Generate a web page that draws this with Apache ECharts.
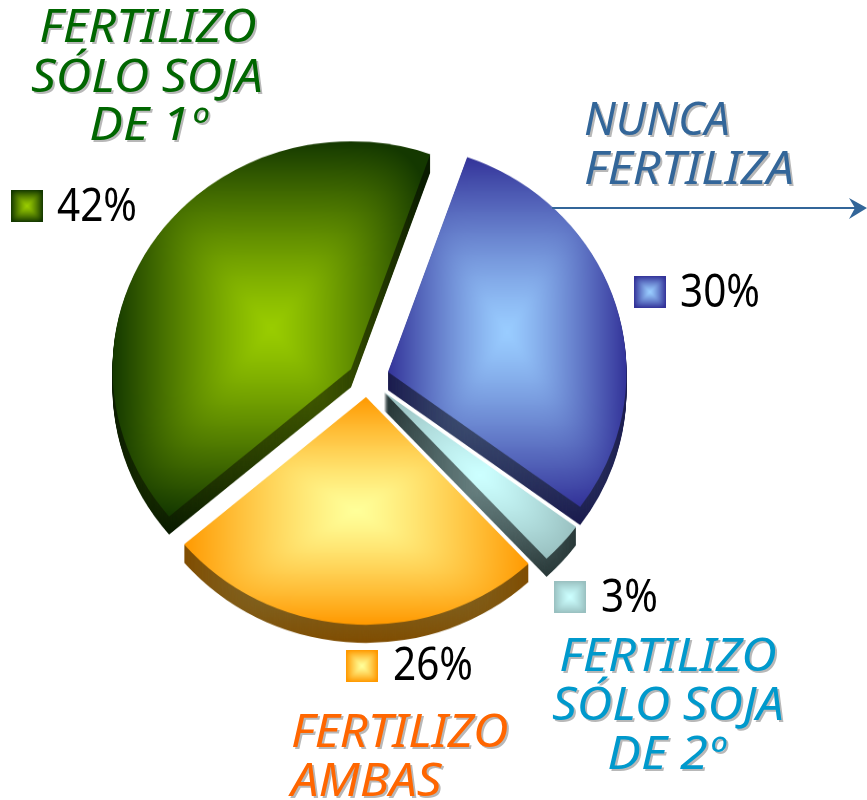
<!DOCTYPE html>
<html><head><meta charset="utf-8">
<style>html,body{margin:0;padding:0;background:#fff;overflow:hidden}
#wrap{position:relative;width:867px;height:800px;overflow:hidden}
#pie{position:absolute;left:0;top:0;width:867px;height:838px;transform:scaleY(0.955);transform-origin:0 0}
#txt{position:absolute;left:0;top:0;width:867px;height:800px}</style>
<script src="https://cdn.jsdelivr.net/npm/echarts@6/dist/echarts.min.js"></script>
</head><body><div id="wrap"><div id="pie"></div><div id="txt"></div></div>
<script>
var categories = ['NUNCA FERTILIZA', 'FERTILIZO SÓLO SOJA DE 2º', 'FERTILIZO AMBAS', 'FERTILIZO SÓLO SOJA DE 1º'];
var values = [30, 3, 26, 42];
var percentLabels = ['30%', '3%', '26%', '42%'];
var nameLines = [['NUNCA', 'FERTILIZA'], ['FERTILIZO', 'SÓLO SOJA', 'DE 2º'], ['FERTILIZO', 'AMBAS'], ['FERTILIZO', 'SÓLO SOJA', 'DE 1º']];

var TILT = 0.955, START = 70.6, R = 238.5, DEPTH = 18;
var centers = [[388, 372], [384, 392], [366, 397], [351, 369]];
var inner = [[153,204,255], [204,255,255], [255,255,153], [153,204,0]];
var outer = [[51,51,153], [153,192,192], [255,153,0], [20,56,0]];
var innerD = [[77,102,128], [102,127,127], [127,127,76], [77,102,0]];
var outerD = [[25,26,77], [40,56,56], [127,76,0], [8,26,0]];
var textCol = ['#336699', '#0099cc', '#ff6600', '#006600'];

// rectangular "path" gradient painted into a canvas, used as a fill pattern
function rectGrad(w, h, b, a, c) {
  var cv = document.createElement('canvas'); cv.width = w; cv.height = h;
  var g = cv.getContext('2d'), x0 = Math.max(0, Math.floor(b[0]) - 3), y0 = Math.max(0, Math.floor(b[1]) - 3),
      x1 = Math.min(w, Math.ceil(b[2]) + 3), y1 = Math.min(h, Math.ceil(b[3]) + 3);
  var im = g.createImageData(x1 - x0, y1 - y0), mx = (b[0] + b[2]) / 2, my = (b[1] + b[3]) / 2,
      hw = (b[2] - b[0]) / 2, hh = (b[3] - b[1]) / 2, p = 0;
  for (var y = y0; y < y1; y++) for (var x = x0; x < x1; x++) {
    var u = Math.abs(x + 0.5 - mx) / hw, v = Math.abs(y + 0.5 - my) / hh;
    var t = Math.min(1, Math.pow(Math.pow(u, 6) + Math.pow(v, 6), 1 / 6));
    t = Math.pow(t, 1.25);
    im.data[p++] = a[0] + (c[0] - a[0]) * t;
    im.data[p++] = a[1] + (c[1] - a[1]) * t;
    im.data[p++] = a[2] + (c[2] - a[2]) * t;
    im.data[p++] = 255;
  }
  g.putImageData(im, x0, y0);
  return {image: cv, repeat: 'no-repeat'};
}
function sliceBox(k, cy) {
  var tot = values.reduce(function (s, v) { return s + v; }, 0), a = 90 - START;
  for (var i = 0; i < k; i++) a += values[i] / tot * 360;
  var e = a + values[k] / tot * 360, cx = centers[k][0], xs = [cx], ys = [cy], list = [a, e];
  for (var q = 0; q <= 720; q += 90) if (q > a && q < e) list.push(q);
  list.forEach(function (d) {
    var r = d * Math.PI / 180;
    xs.push(cx + R * Math.sin(r)); ys.push(cy - R * Math.cos(r));
  });
  return [Math.min.apply(null, xs), Math.min.apply(null, ys), Math.max.apply(null, xs), Math.max.apply(null, ys)];
}
function sliceSeries(k, dy, fill) {
  return {
    type: 'pie', silent: true, animation: false, startAngle: START, clockwise: true,
    center: [centers[k][0], centers[k][1] / TILT + dy], radius: [0, R],
    label: {show: false}, labelLine: {show: false},
    data: values.map(function (v, i) {
      return {value: v, name: categories[i],
        itemStyle: i === k ? {color: fill} : {color: 'rgba(0,0,0,0)'}};
    })
  };
}
var series = [];
for (var k = 0; k < values.length; k++) {
  var cy = centers[k][1] / TILT, box = sliceBox(k, cy);
  var dBox = [box[0], box[1], box[2], box[3] + DEPTH / TILT];
  var topFill = rectGrad(867, 838, box, inner[k], outer[k]);
  var sideFill = rectGrad(867, 838, dBox, innerD[k], outerD[k]);
  for (var d = Math.round(DEPTH / TILT); d >= 1; d -= 1) series.push(sliceSeries(k, d, sideFill));
  series.push(sliceSeries(k, 0, topFill));
}

var keyPos = [[634, 276], [554, 581], [346, 650], [11, 190]];
var pctPos = [[680, 307], [601, 612], [393, 680], [57, 221]];
// per line: [x, baseline, align, horizontal scale]
var linePos = [
  [[584, 135, 'left', 1.0], [584, 184, 'left', 1.09]],
  [[668, 671, 'center', 1.09], [668, 720, 'center', 1.09], [666, 769, 'center', 1.12]],
  [[291, 747, 'left', 1.09], [291, 796, 'left', 1.09]],
  [[148, 42, 'center', 1.09], [147, 92, 'center', 1.09], [148, 140, 'center', 1.12]]
];
var graphic = [];
for (var i = 0; i < values.length; i++) {
  var kp = keyPos[i];
  graphic.push({type: 'rect', silent: true, shape: {x: kp[0], y: kp[1], width: 32, height: 32},
    style: {fill: rectGrad(867, 800, [kp[0], kp[1], kp[0] + 32, kp[1] + 32], inner[i], outer[i])}});
  graphic.push({type: 'text', silent: true, x: pctPos[i][0], y: pctPos[i][1] + 10, scaleX: 0.9,
    style: {text: percentLabels[i], fill: '#000', font: '45px "Noto Sans"', align: 'left', verticalAlign: 'bottom'}});
  nameLines[i].forEach(function (t, j) {
    var p = linePos[i][j];
    graphic.push({type: 'text', silent: true, x: p[0], y: p[1] + 10, scaleX: p[3],
      style: {text: t, fill: textCol[i], font: 'italic 45px "Noto Sans"', align: p[2], verticalAlign: 'bottom',
        textShadowColor: '#b8b8b8', textShadowBlur: 0.6, textShadowOffsetX: 2, textShadowOffsetY: 2}});
  });
}
graphic.push({type: 'line', silent: true, shape: {x1: 552, y1: 208, x2: 860, y2: 208}, style: {stroke: '#336699', lineWidth: 2}});
graphic.push({type: 'polygon', silent: true, shape: {points: [[849, 198], [867, 208], [849, 219], [855, 208]]}, style: {fill: '#336699'}});

var pieChart = echarts.init(document.getElementById('pie'));
pieChart.setOption({animation: false, backgroundColor: '#fff', series: series});
var textChart = echarts.init(document.getElementById('txt'));
textChart.setOption({animation: false, backgroundColor: 'transparent', graphic: {elements: graphic}});
</script></body></html>
